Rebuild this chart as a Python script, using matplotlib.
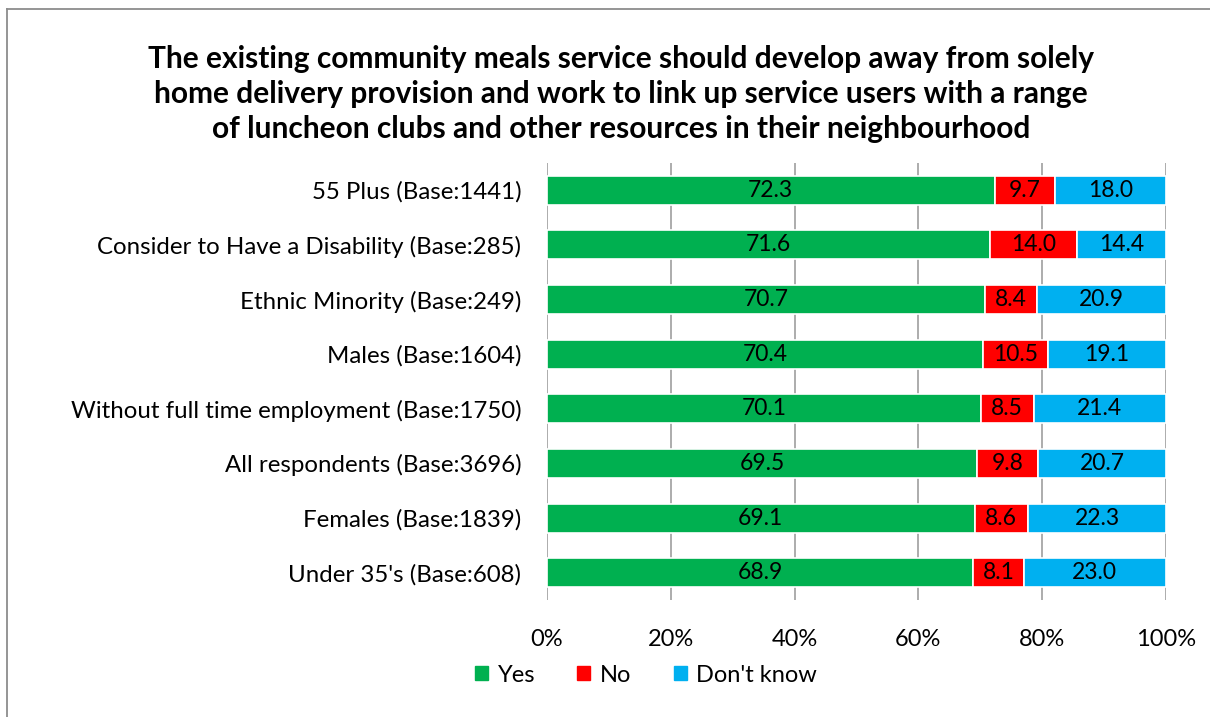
import matplotlib.pyplot as plt
from matplotlib.lines import Line2D
import numpy as np

plt.rcParams["font.family"] = ["Lato", "DejaVu Sans"]

categories = [
    "55 Plus (Base:1441)",
    "Consider to Have a Disability (Base:285)",
    "Ethnic Minority (Base:249)",
    "Males (Base:1604)",
    "Without full time employment (Base:1750)",
    "All respondents (Base:3696)",
    "Females (Base:1839)",
    "Under 35's (Base:608)",
]
yes = [72.3, 71.6, 70.7, 70.4, 70.1, 69.5, 69.1, 68.9]
no = [9.7, 14.0, 8.4, 10.5, 8.5, 9.8, 8.6, 8.1]
dont_know = [18.0, 14.4, 20.9, 19.1, 21.4, 20.7, 22.3, 23.0]
series_names = ["Yes", "No", "Don't know"]
colors = ["#00b050", "#ff0000", "#00b0f0"]
title = ("The existing community meals service should develop away from solely\n"
         "home delivery provision and work to link up service users with a range\n"
         "of luncheon clubs and other resources in their neighbourhood")

fig = plt.figure(figsize=(12.10, 7.17), dpi=100)
ax = fig.add_axes([547 / 1210, 1 - 600 / 717, (1166 - 547) / 1210, (600 - 163) / 717])

y = np.arange(len(categories))
left = np.zeros(len(categories))
for vals, name, col in zip([yes, no, dont_know], series_names, colors):
    vals = np.array(vals)
    bars = ax.barh(y, vals, left=left, height=0.53, color=col, edgecolor="white",
                   linewidth=1.2, label=name, zorder=3)
    for b, v in zip(bars, vals):
        ax.text(b.get_x() + b.get_width() / 2, b.get_y() + b.get_height() / 2,
                f"{v:.1f}", ha="center", va="center", fontsize=16.5, color="black", zorder=4)
    left = left + vals

ax.set_xlim(0, 100)
ax.set_ylim(len(categories) - 0.5, -0.5)
ax.set_xticks(np.arange(0, 101, 20))
ax.set_xticklabels([f"{t}%" for t in range(0, 101, 20)], fontsize=17)
ax.set_yticks(y)
ax.set_yticklabels(categories, fontsize=17.3)
ax.tick_params(axis="y", length=0, pad=18.5)
ax.tick_params(axis="x", length=0, pad=21)
ax.grid(axis="x", color="#a6a6a6", linewidth=1.3, zorder=0)
for s in ax.spines.values():
    s.set_visible(False)

fig.text(0.513, 1 - 94 / 717, title, ha="center", va="center", fontsize=21.5,
         fontweight="bold", linespacing=1.32)

handles = [plt.Rectangle((0, 0), 1, 1, color=c) for c in colors]
fig.legend(handles, series_names, loc="center", bbox_to_anchor=(646 / 1210, 1 - 675 / 717),
           ncol=3, frameon=False, fontsize=17, handlelength=0.55, handleheight=0.55,
           handletextpad=0.4, columnspacing=1.8)

fig.add_artist(Line2D([7 / 1210, 7 / 1210], [0, 1 - 9 / 717], transform=fig.transFigure,
                      color="#8c8c8c", linewidth=1.3))
fig.add_artist(Line2D([7 / 1210, 1], [1 - 9 / 717, 1 - 9 / 717], transform=fig.transFigure,
                      color="#8c8c8c", linewidth=1.3))

fig.savefig("out.png", dpi=100)
